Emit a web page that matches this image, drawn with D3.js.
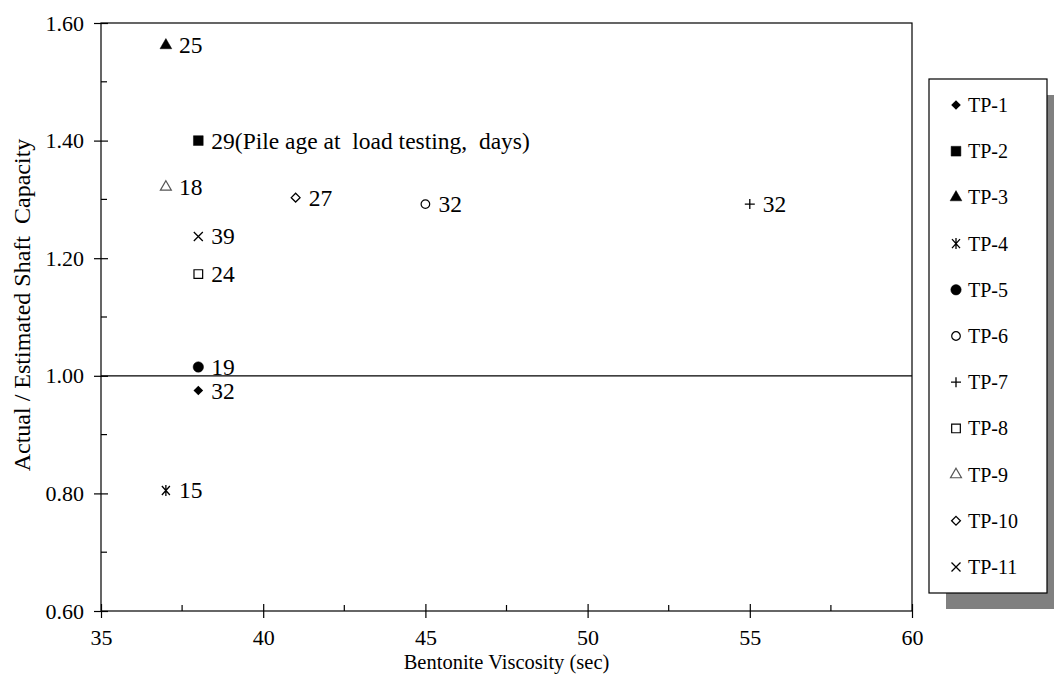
<!DOCTYPE html>
<html><head><meta charset="utf-8">
<script src="https://cdn.jsdelivr.net/npm/d3@7"></script>
<style>body{margin:0;background:#fff}svg{display:block}text{font-family:"Liberation Serif","Times New Roman",serif;fill:#000}</style>
</head><body><svg id="c" width="1054" height="688"></svg>
<script>
const series = ["TP-1","TP-2","TP-3","TP-4","TP-5","TP-6","TP-7","TP-8","TP-9","TP-10","TP-11"];
const viscosity = [38, 38, 37, 37, 38, 45, 55, 38, 37, 41, 38];
const ratio = [0.975, 1.40, 1.562, 0.805, 1.015, 1.292, 1.292, 1.173, 1.321, 1.303, 1.237];
const ageLabels = ["32","29(Pile age at  load testing,  days)","25","15","19","32","32","24","18","27","39"];
const shapes = ["diamondF","squareF","triangleF","asterisk","circleF","circleO","plus","squareO","triangleO","diamondO","cross"];
const xTicks = [35,40,45,50,55,60];
const yTicks = [0.6,0.8,1.0,1.2,1.4,1.6];

const svg = d3.select("#c");
const m = {l:101, t:23, r:912, b:611};
const x = d3.scaleLinear().domain([35,60]).range([m.l, m.r]);
const y = d3.scaleLinear().domain([0.6,1.6]).range([m.b, m.t]);

svg.append("rect").attr("x",m.l).attr("y",m.t).attr("width",m.r-m.l).attr("height",m.b-m.t)
  .attr("fill","none").attr("stroke","#000").attr("stroke-width",1.2);
svg.append("line").attr("x1",m.l).attr("x2",m.r).attr("y1",y(1)).attr("y2",y(1)).attr("stroke","#000").attr("stroke-width",1.2);

const xAxis = svg.append("g").attr("transform",`translate(0,${m.b})`)
  .call(d3.axisBottom(x).tickValues(xTicks).tickFormat(d3.format("d")).tickSize(7).tickPadding(11));
const yAxis = svg.append("g").attr("transform",`translate(${m.l},0)`)
  .call(d3.axisLeft(y).tickValues(yTicks).tickFormat(d3.format(".2f")).tickSize(7).tickPadding(10));
[xAxis,yAxis].forEach(g=>{g.attr("font-family",null).attr("font-size",null);g.select(".domain").remove();g.selectAll("text").style("font-size","22px");});
xAxis.selectAll(".tick line").attr("y1",-7).attr("stroke-width",1.2);
yAxis.selectAll(".tick line").attr("x2",7).attr("x1",-7).attr("stroke-width",1.2);
const xMinor = [37.5,42.5,47.5,52.5,57.5];
const yMinor = [0.7,0.9,1.1,1.3,1.5];
svg.append("g").selectAll("line").data(xMinor).join("line")
  .attr("x1",d=>x(d)).attr("x2",d=>x(d)).attr("y1",m.b).attr("y2",m.b-6).attr("stroke","#000").attr("stroke-width",1.2);
svg.append("g").selectAll("line").data(yMinor).join("line")
  .attr("y1",d=>y(d)).attr("y2",d=>y(d)).attr("x1",m.l).attr("x2",m.l+6).attr("stroke","#000").attr("stroke-width",1.2);

svg.append("text").attr("x",(m.l+m.r)/2).attr("y",669).attr("text-anchor","middle").style("font-size","20.5px").text("Bentonite Viscosity (sec)");
svg.append("text").attr("transform",`translate(30,${305}) rotate(-90)`).attr("text-anchor","middle").style("font-size","24px").attr("xml:space","preserve").text("Actual / Estimated Shaft  Capacity");

function marker(g, shape){
  const s = {squareF:[d3.symbolSquare,95,true],triangleF:[d3.symbolTriangle,60,true],
    circleF:[d3.symbolCircle,85,true],circleO:[d3.symbolCircle,58,false],squareO:[d3.symbolSquare,75,false],
    triangleO:[d3.symbolTriangle,52,false]}[shape];
  if(s){
    g.append("path").attr("d",d3.symbol(s[0],s[1])()).attr("fill",s[2]?"#000":"#fff")
     .attr("stroke",shape==="triangleO"?"#555":"#000").attr("stroke-width",s[2]?0.5:1.2);
  } else if(shape==="diamondF"){
    g.append("path").attr("d","M0,-4.8L4.8,0L0,4.8L-4.8,0Z").attr("fill","#000");
  } else if(shape==="diamondO"){
    g.append("path").attr("d","M0,-4.4L4.4,0L0,4.4L-4.4,0Z").attr("fill","#fff").attr("stroke","#000").attr("stroke-width",1.3);
  } else if(shape==="plus"){
    g.append("path").attr("d","M-5,0H5M0,-5V5").attr("stroke","#000").attr("stroke-width",1.3);
  } else if(shape==="cross"){
    g.append("path").attr("d","M-4.5,-4.5L4.5,4.5M-4.5,4.5L4.5,-4.5").attr("stroke","#000").attr("stroke-width",1.3);
  } else if(shape==="asterisk"){
    g.append("path").attr("d","M-4,-4.5L4,4.5M-4,4.5L4,-4.5M0,-5.5V5.5").attr("stroke","#000").attr("stroke-width",1.3);
  }
}

series.forEach((s,i)=>{
  const g = svg.append("g").attr("transform",`translate(${x(viscosity[i])},${y(ratio[i])})`);
  marker(g, shapes[i]);
  g.append("text").attr("x",13).attr("y",8).style("font-size","23.5px").attr("xml:space","preserve").text(ageLabels[i]);
});

const lg = {x:929, y:79, w:118, h:514};
svg.append("rect").attr("x",lg.x+17).attr("y",lg.y+16).attr("width",lg.w).attr("height",lg.h).attr("fill","#808080");
svg.append("rect").attr("x",lg.x).attr("y",lg.y).attr("width",lg.w).attr("height",lg.h).attr("fill","#fff").attr("stroke","#000").attr("stroke-width",1.2);
series.forEach((s,i)=>{
  const yy = 105 + i*46.2;
  const g = svg.append("g").attr("transform",`translate(956,${yy})`);
  marker(g, shapes[i]);
  g.append("text").attr("x",12).attr("y",7).style("font-size","20px").text(s);
});
</script></body></html>
